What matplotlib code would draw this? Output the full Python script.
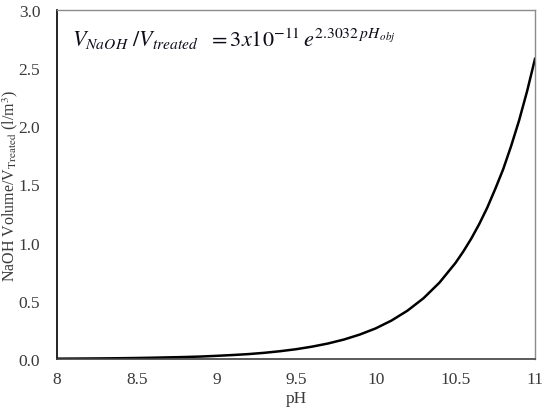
import matplotlib
matplotlib.use("Agg")
import matplotlib.pyplot as plt

ph = [8.0, 8.1, 8.2, 8.3, 8.4, 8.5, 8.6, 8.7, 8.8, 8.9, 9.0, 9.1, 9.2, 9.3, 9.4,
      9.5, 9.6, 9.7, 9.8, 9.9, 10.0, 10.1, 10.2, 10.3, 10.4, 10.5, 10.55, 10.6,
      10.65, 10.7, 10.75, 10.8, 10.85, 10.9, 10.95, 11.0]
volume = [0.0027, 0.0034, 0.0043, 0.0054, 0.0068, 0.0086, 0.011, 0.014, 0.017,
          0.021, 0.027, 0.034, 0.042, 0.053, 0.067, 0.084, 0.106, 0.133, 0.167,
          0.210, 0.263, 0.331, 0.416, 0.522, 0.656, 0.824, 0.924, 1.035, 1.16,
          1.30, 1.46, 1.63, 1.83, 2.05, 2.30, 2.58]
x_ticks = [8, 8.5, 9, 9.5, 10, 10.5, 11]
x_tick_labels = ["8", "8.5", "9", "9.5", "10", "10.5", "11"]
y_ticks = [0.0, 0.5, 1.0, 1.5, 2.0, 2.5, 3.0]

plt.rcParams['font.family'] = ['Liberation Serif', 'DejaVu Serif']
plt.rcParams['mathtext.fontset'] = 'stix'

fig = plt.figure(figsize=(5.5, 4.14), dpi=100)
ax = fig.add_axes([57/550, 1 - 360/414, (535-57)/550, (360-11)/414])

ax.plot(ph, volume, color='black', linewidth=1.8)
ax.set_xlim(8, 11)
ax.set_ylim(0, 3.0)
ax.set_xticks(x_ticks)
ax.set_xticklabels(x_tick_labels)
ax.set_yticks(y_ticks)
ax.set_yticklabels([f"{v:.1f}" for v in y_ticks])
ax.tick_params(axis='x', length=0, labelsize=12.5, pad=9)
ax.tick_params(axis='y', length=0, labelsize=12.5, pad=12)
for lbl in ax.get_xticklabels() + ax.get_yticklabels():
    lbl.set_color('#3a3a3a')

ax.spines['left'].set_color('black')
ax.spines['bottom'].set_color('#404040')
ax.spines['left'].set_linewidth(1.2)
ax.spines['bottom'].set_linewidth(1.2)
ax.spines['top'].set_color('#8c8c8c')
ax.spines['right'].set_color('#8c8c8c')
ax.spines['top'].set_linewidth(1.0)
ax.spines['right'].set_linewidth(1.0)

ax.set_xlabel("pH", fontsize=12.5, color='#3a3a3a', labelpad=2)
ax.set_ylabel(r"NaOH Volume/V$_{\mathrm{Treated}}$ (l/m$^{3}$)", fontsize=11.5,
              color='#3a3a3a')
ax.yaxis.set_label_coords(-(57 - 20) / (535 - 57), 0.5)

ax.text(0.032, 0.92,
        r"$V_{NaOH}\ /V_{treated}\ \ = 3x10^{-11}\,e^{2.3032\,pH_{\,obj}}$",
        transform=ax.transAxes, fontsize=16, color='#0d0d1a', va='center', ha='left')

fig.savefig("out.png", dpi=100)
